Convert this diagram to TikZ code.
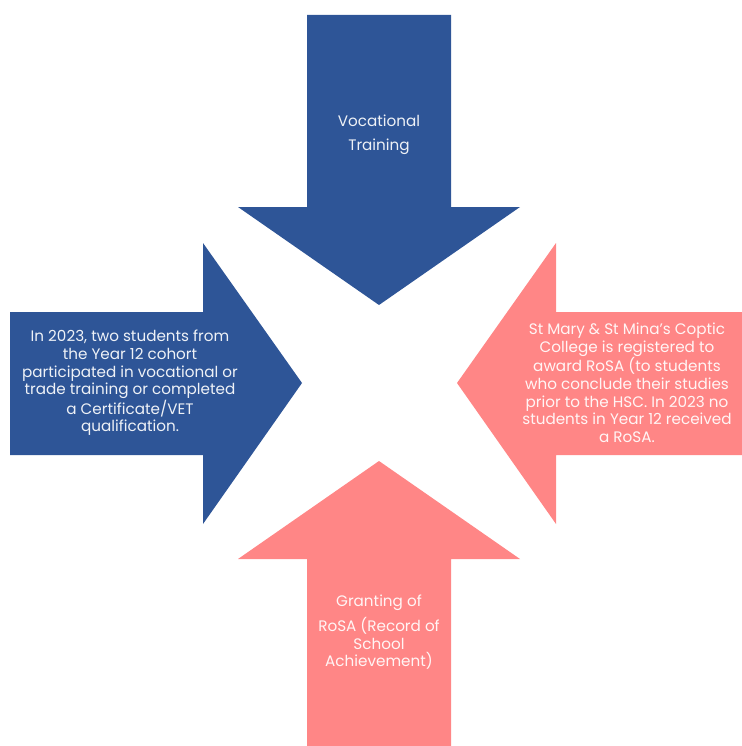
\documentclass[tikz,border=0pt]{standalone}
\usepackage{fontspec}
\setmainfont{Poppins}
\definecolor{navy1}{RGB}{46, 85, 151}
\definecolor{salmon1}{RGB}{255, 134, 134}
\usetikzlibrary{positioning}

\begin{document}
\begin{tikzpicture}[x=1bp, y=-1bp,
    label/.style={align=center, inner sep=0pt, text=white, text opacity=0.92,
      font=\fontsize{15.2bp}{17.7bp}\selectfont}]
  \useasboundingbox (0,0) rectangle (742,746);

  % Vocational training (top, pointing down)
  \fill[navy1] (307,15) -- (451,15) -- (451,207) -- (520,207) -- (379,305)
    -- (238,207) -- (307,207) -- cycle;
  \node[label] (vocational) at (379,135) {Vocational\\[6bp]Training};

  % Year 12 cohort (left, pointing right)
  \fill[navy1] (10,312) -- (203,312) -- (203,243) -- (302,383) -- (203,524)
    -- (203,455) -- (10,455) -- cycle;
  \node[label] (cohort) at (130,383) {In 2023, two students from\\the Year 12 cohort\\participated in vocational or\\trade training or completed\\a Certificate/VET\\qualification.};

  % RoSA registration (right, pointing left)
  \fill[salmon1] (742,312) -- (556,312) -- (556,243) -- (457,383) -- (556,524)
    -- (556,455) -- (742,455) -- cycle;
  \node[label] (college) at (627,383) {St Mary \& St Mina's Coptic\\College is registered to\\award RoSA (to students\\who conclude their studies\\prior to the HSC. In 2023 no\\students in Year 12 received\\a RoSA.};

  % Granting of RoSA (bottom, pointing up)
  \fill[salmon1] (307,746) -- (451,746) -- (451,559) -- (520,559) -- (379,461)
    -- (238,559) -- (307,559) -- cycle;
  \node[label] (granting) at (379,632) {Granting of\\[6bp]RoSA (Record of\\School\\Achievement)};
\end{tikzpicture}
\end{document}
